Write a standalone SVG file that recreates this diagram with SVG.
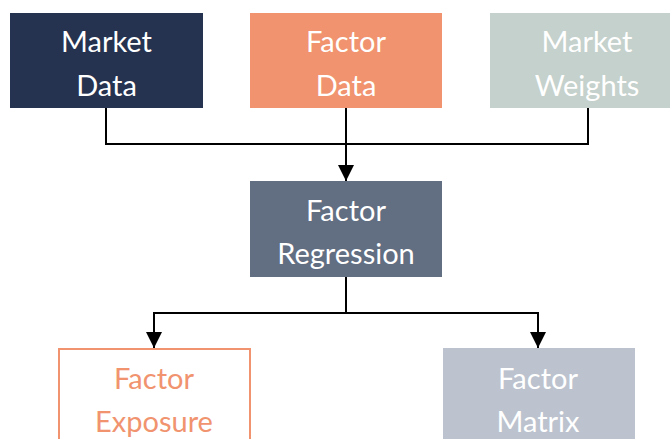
<svg xmlns="http://www.w3.org/2000/svg" width="670" height="439" viewBox="0 0 670 439">
<style>
.t{font-family:"Lato","Open Sans",sans-serif;font-size:29px;text-anchor:middle;fill:#ffffff}
.c{fill:none;stroke:#000;stroke-width:2}
</style>
<defs>
<marker id="ah" markerWidth="16" markerHeight="16" refX="8" refY="16" orient="0" markerUnits="userSpaceOnUse" viewBox="0 0 16 16">
<path d="M0,0 L16,0 L8,16 Z" fill="#000"/>
</marker>
</defs>
<rect width="670" height="439" fill="#fff"/>
<g id="connectors">
<path class="c" d="M106,108 V144 H588 V108"/>
<path class="c" d="M346,108 V181" marker-end="url(#ah)"/>
<path class="c" d="M346,277 V313 H154 V348" marker-end="url(#ah)"/>
<path class="c" d="M346,313 H538 V348" marker-end="url(#ah)"/>
</g>
<g id="market-data">
<rect x="10" y="13" width="193" height="95" fill="#253350"/>
<text class="t" x="106.5" y="52">Market</text>
<text class="t" x="106.5" y="96">Data</text>
</g>
<g id="factor-data">
<rect x="250" y="13" width="192" height="95" fill="#F0936E"/>
<text class="t" x="346" y="52">Factor</text>
<text class="t" x="346" y="96">Data</text>
</g>
<g id="market-weights">
<rect x="490" y="13" width="193" height="95" fill="#C5D1CC"/>
<text class="t" x="587" y="52">Market</text>
<text class="t" x="587" y="96">Weights</text>
</g>
<g id="factor-regression">
<rect x="250" y="181" width="192" height="96" fill="#626E82"/>
<text class="t" x="346" y="221">Factor</text>
<text class="t" x="346" y="264">Regression</text>
</g>
<g id="factor-exposure">
<rect x="59" y="349" width="191" height="100" fill="#fff" stroke="#F0936E" stroke-width="2"/>
<text class="t" x="154" y="389" style="fill:#F0936E">Factor</text>
<text class="t" x="154" y="432" style="fill:#F0936E">Exposure</text>
</g>
<g id="factor-matrix">
<rect x="443" y="348" width="192" height="100" fill="#BCC3CE"/>
<text class="t" x="538" y="389">Factor</text>
<text class="t" x="538" y="432">Matrix</text>
</g>
</svg>
